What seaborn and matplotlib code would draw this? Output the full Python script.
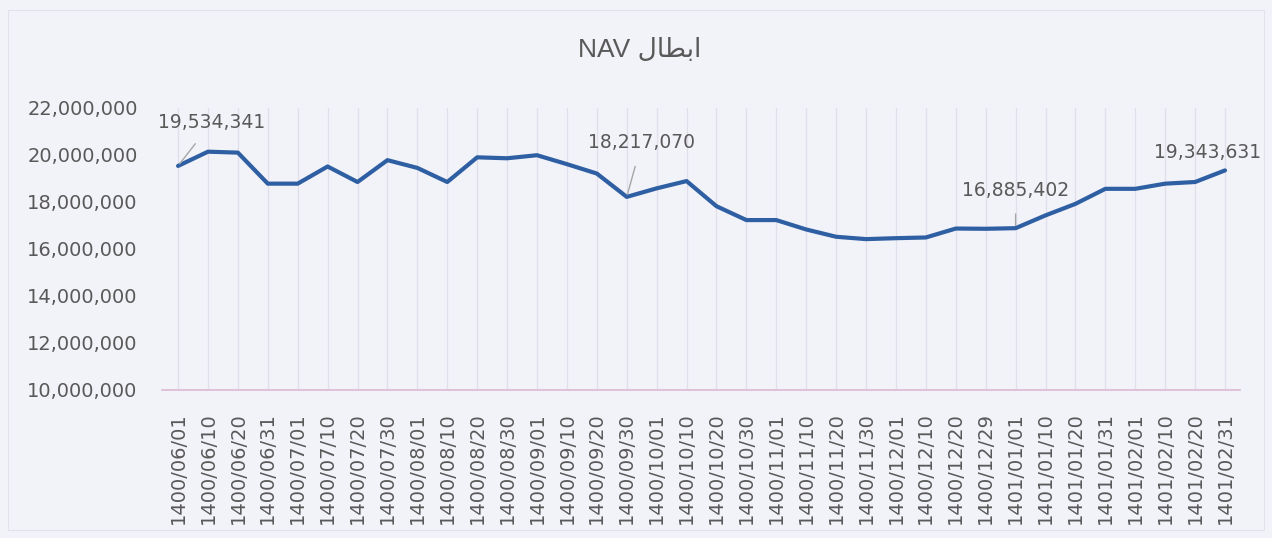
import matplotlib
matplotlib.use("Agg")
import matplotlib.pyplot as plt
import seaborn as sns
import pandas as pd

dates = ["1400/06/01", "1400/06/10", "1400/06/20", "1400/06/31", "1400/07/01", "1400/07/10",
         "1400/07/20", "1400/07/30", "1400/08/01", "1400/08/10", "1400/08/20", "1400/08/30",
         "1400/09/01", "1400/09/10", "1400/09/20", "1400/09/30", "1400/10/01", "1400/10/10",
         "1400/10/20", "1400/10/30", "1400/11/01", "1400/11/10", "1400/11/20", "1400/11/30",
         "1400/12/01", "1400/12/10", "1400/12/20", "1400/12/29", "1401/01/01", "1401/01/10",
         "1401/01/20", "1401/01/31", "1401/02/01", "1401/02/10", "1401/02/20", "1401/02/31"]
nav = [19534341, 20140000, 20100000, 18780000, 18780000, 19510000,
       18850000, 19780000, 19450000, 18850000, 19900000, 19860000,
       19990000, 19610000, 19210000, 18217070, 18580000, 18890000,
       17820000, 17230000, 17230000, 16830000, 16520000, 16420000,
       16460000, 16490000, 16870000, 16860000, 16885402, 17430000,
       17920000, 18560000, 18560000, 18780000, 18850000, 19343631]
labeled = {0: (24.5, 31.5), 15: (10.8, 38.9), 28: (0.0, 27.4), 35: (-12.2, 13.0)}
leader = {0: True, 15: True, 28: True, 35: False}
title_text = "NAV " + "\uFEDD\uFE8E\uFEC4\uFE91\uFE8D"  # NAV ابطال (visual order)

sns.set_theme(style="white")
plt.rcParams["font.family"] = ["DejaVu Sans"]

bg = "#f2f2f9"
txt = "#595959"
fig = plt.figure(figsize=(12.72, 5.38), dpi=100, facecolor=bg)
ax = fig.add_axes([0.1274, 0.2751, 0.8474, 0.5242])
ax.set_facecolor(bg)

df = pd.DataFrame({"date": dates, "nav": nav})
sns.lineplot(data=df, x="date", y="nav", sort=False, ax=ax, color="#2e5fa2",
             linewidth=3.0, solid_joinstyle="round", solid_capstyle="round", zorder=3)

ax.set_xlim(-0.535, 35.5)
ax.set_ylim(10_000_000, 22_000_000)
ax.set_yticks(range(10_000_000, 22_000_001, 2_000_000))
ax.yaxis.set_major_formatter(matplotlib.ticker.FuncFormatter(lambda v, p: f"{int(v):,}"))
ax.set_xlabel("")
ax.set_ylabel("")

ax.set_xticks(range(len(dates)))
ax.set_xticklabels(dates, rotation=90)
for i in range(len(dates)):
    ax.axvline(i, color="#e2dfea", linewidth=0.9, zorder=1)

for s in ["top", "right", "left"]:
    ax.spines[s].set_visible(False)
ax.spines["bottom"].set_color("#dcb9d2")
ax.spines["bottom"].set_linewidth(1.2)

ax.tick_params(axis="y", length=0, pad=17.5, labelsize=14, labelcolor=txt)
ax.tick_params(axis="x", length=4, color="#dcb9d2", pad=12, labelsize=14, labelcolor=txt)

for i, off in labeled.items():
    props = dict(arrowstyle="-", color="#a6a6a6", lw=1.0, shrinkA=8, shrinkB=2) if leader[i] else None
    ax.annotate(f"{nav[i]:,}", xy=(i, nav[i]), xytext=off, textcoords="offset points",
                ha="center", va="center", fontsize=13.5, color=txt,
                arrowprops=props, zorder=4)

fig.text(0.503, 1 - 50 / 538, title_text, ha="center", va="center", fontsize=19,
         color=txt, family=["Liberation Sans", "DejaVu Sans"])

border = matplotlib.patches.Rectangle((8 / 1272, 8 / 538), 1 - 16 / 1272, 1 - 18 / 538,
                                      transform=fig.transFigure, fill=False,
                                      edgecolor="#e2e2ea", linewidth=0.8)
fig.add_artist(border)

fig.savefig("out.png", dpi=100, facecolor=bg)
